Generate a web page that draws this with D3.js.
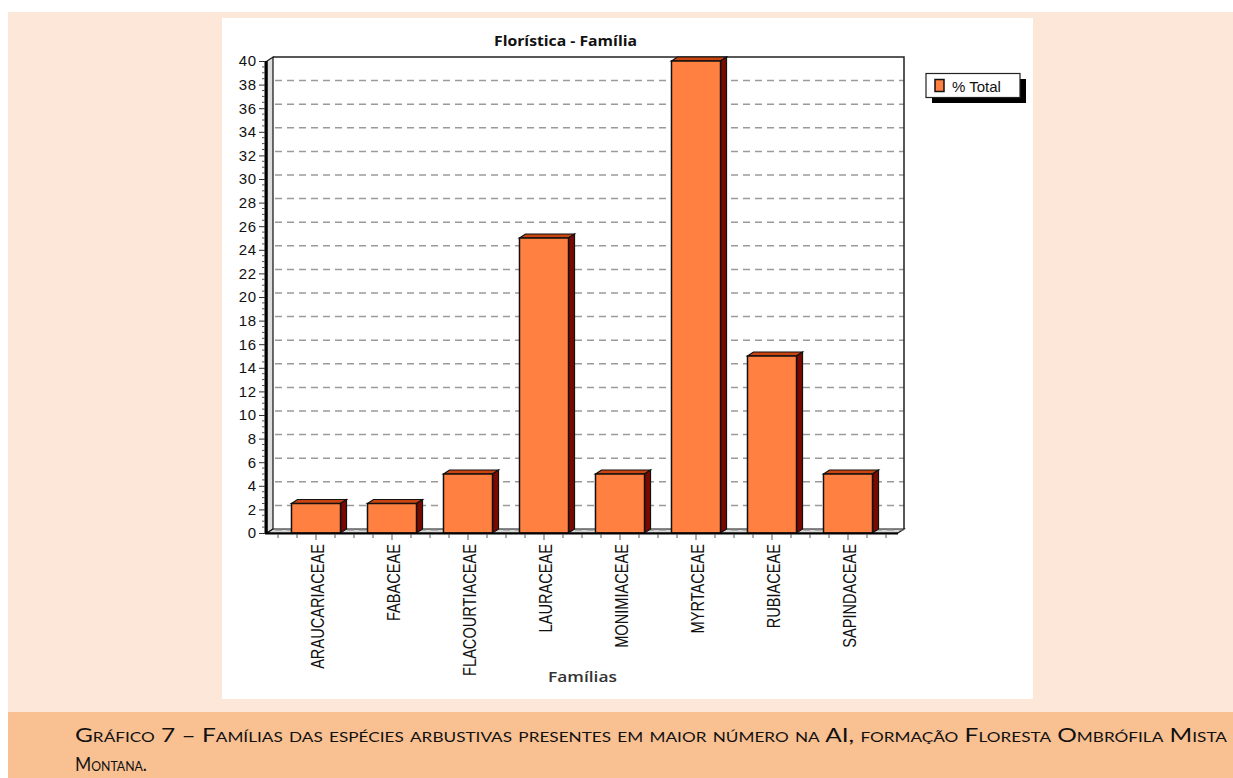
<!DOCTYPE html>
<html>
<head>
<meta charset="utf-8">
<script src="https://cdn.jsdelivr.net/npm/d3@7/dist/d3.min.js"></script>
<style>
  html, body { margin: 0; padding: 0; background: #ffffff; }
  svg { display: block; }
</style>
</head>
<body>
<svg id="chart" width="1233" height="778"></svg>
<script>
// Families and their share (% of species)
const families = ["ARAUCARIACEAE", "FABACEAE", "FLACOURTIACEAE", "LAURACEAE",
                  "MONIMIACEAE", "MYRTACEAE", "RUBIACEAE", "SAPINDACEAE"];
const pctTotal = [2.5, 2.5, 5, 25, 5, 40, 15, 5];
const yTicks = d3.range(0, 41, 2);
const seriesName = "% Total";
const chartTitle = "Florística - Família";
const xTitle = "Famílias";
const captionLine1 = "Gráfico 7 – Famílias das espécies arbustivas presentes em maior número na AI, formação Floresta Ombrófila Mista";
const captionLine2 = "Montana.";

const svg = d3.select("#chart");

// page panels
svg.append("rect").attr("x", 8).attr("y", 12).attr("width", 1225).attr("height", 700).attr("fill", "#fce7d8");
svg.append("rect").attr("x", 8).attr("y", 712).attr("width", 1225).attr("height", 66).attr("fill", "#f9c092");
svg.append("rect").attr("x", 222).attr("y", 18).attr("width", 811).attr("height", 681).attr("fill", "#ffffff");

// plot geometry
const left = 267, right = 898;
const dx = 6, dy = -4;            // 3D depth offset
const y = d3.scaleLinear().domain([0, 40]).range([533, 61]);
const x = d3.scaleBand().domain(families).range([278, 886]).paddingInner(0.355).paddingOuter(0.1775);

const g = svg.append("g");

// back wall
g.append("rect").attr("x", left + dx).attr("y", y(40) + dy).attr("width", right - left)
  .attr("height", y(0) - y(40)).attr("fill", "#ffffff");

// dashed gridlines on the back wall
g.selectAll("line.grid").data(yTicks.filter(v => v > 0 && v < 40)).join("line")
  .attr("class", "grid")
  .attr("x1", left + dx + 2).attr("x2", right + dx)
  .attr("y1", v => y(v) + dy).attr("y2", v => y(v) + dy)
  .attr("stroke", "#9a9a9a").attr("stroke-width", 1.5).attr("stroke-dasharray", "7,5");

// back wall frame (top and right)
g.append("path")
  .attr("d", `M${left + dx},${y(40) + dy}H${right + dx}V${y(0) + dy}`)
  .attr("fill", "none").attr("stroke", "#222").attr("stroke-width", 1.5);

// left side wall
g.append("path")
  .attr("d", `M${left},${y(0)}V${y(40)}L${left + dx},${y(40) + dy}V${y(0) + dy}Z`)
  .attr("fill", "#dcdcdc").attr("stroke", "#111").attr("stroke-width", 1.2);

// floor
g.append("path")
  .attr("d", `M${left},${y(0)}H${right}L${right + dx},${y(0) + dy}H${left + dx}Z`)
  .attr("fill", "#d8d8d8").attr("stroke", "#111").attr("stroke-width", 1.2);
g.append("line").attr("x1", left + dx + 2).attr("x2", right + dx)
  .attr("y1", y(0) + dy + 1).attr("y2", y(0) + dy + 1)
  .attr("stroke", "#888").attr("stroke-width", 1).attr("stroke-dasharray", "7,5");

// bars (front, top, side faces)
const data = families.map((f, i) => ({ f, v: pctTotal[i] }));
const bars = g.selectAll("g.bar").data(data).join("g").attr("class", "bar");
bars.append("path")   // top face
  .attr("d", d => {
    const x0 = x(d.f), x1 = x0 + x.bandwidth(), yt = y(d.v);
    return `M${x0},${yt}L${x0 + dx},${yt + dy}H${x1 + dx}L${x1},${yt}Z`;
  })
  .attr("fill", "#c94410").attr("stroke", "#111").attr("stroke-width", 1.2);
bars.append("path")   // side face
  .attr("d", d => {
    const x1 = x(d.f) + x.bandwidth(), yt = y(d.v), yb = y(0);
    return `M${x1},${yt}L${x1 + dx},${yt + dy}V${yb + dy}L${x1},${yb}Z`;
  })
  .attr("fill", "#7a0a00").attr("stroke", "#111").attr("stroke-width", 1.2);
bars.append("rect")   // front face
  .attr("x", d => x(d.f)).attr("y", d => y(d.v))
  .attr("width", x.bandwidth()).attr("height", d => y(0) - y(d.v))
  .attr("fill", "#ff8040").attr("stroke", "#111").attr("stroke-width", 1.5);

// front axes
g.append("line").attr("x1", left - 1).attr("x2", left - 1).attr("y1", y(40)).attr("y2", y(0) + 1)
  .attr("stroke", "#000").attr("stroke-width", 3);
g.append("line").attr("x1", left - 2).attr("x2", right).attr("y1", y(0) + 0.5).attr("y2", y(0) + 0.5)
  .attr("stroke", "#000").attr("stroke-width", 2);

// y axis with minor ticks
const yAxis = d3.axisLeft(y).tickValues(yTicks).tickSize(6).tickPadding(2).tickFormat(d3.format("d"));
const ya = g.append("g").attr("transform", `translate(${left - 2},0)`).call(yAxis);
ya.select(".domain").remove();
ya.selectAll("line").attr("stroke", "#333");
ya.selectAll("text").attr("font-family", "Liberation Sans, Arial, sans-serif")
  .attr("font-size", 15).attr("letter-spacing", "0.8px").attr("fill", "#111");
g.selectAll("line.minor").data(d3.range(0, 40.01, 0.5).filter(v => v % 2 !== 0)).join("line")
  .attr("class", "minor")
  .attr("x1", left - 5).attr("x2", left - 2)
  .attr("y1", v => y(v)).attr("y2", v => y(v)).attr("stroke", "#555").attr("stroke-width", 1);

// x ticks: quarter-band minors and a longer tick at each band centre
const step = x.step();
const xTickPos = d3.range(0, families.length * 4 + 1).map(k => x.range()[0] + k * step / 4);
g.selectAll("line.xt").data(xTickPos).join("line").attr("class", "xt")
  .attr("x1", p => p).attr("x2", p => p)
  .attr("y1", y(0) + 1).attr("y2", (p, i) => y(0) + (i % 4 === 2 ? 7 : 5))
  .attr("stroke", "#555").attr("stroke-width", 1);

// rotated category labels
g.selectAll("text.cat").data(families).join("text").attr("class", "cat")
  .attr("transform", f => `translate(${x(f) + x.bandwidth() / 2 + 1},544) rotate(-90) scale(1,1.3)`)
  .attr("text-anchor", "end").attr("dy", "0.36em")
  .attr("font-family", "Liberation Sans, Arial, sans-serif").attr("font-size", 14.6)
  .attr("fill", "#111").text(f => f);

// titles
svg.append("text").attr("x", 494).attr("y", 46)
  .attr("font-family", "Open Sans, sans-serif").attr("font-weight", 700).attr("font-size", 14)
  .attr("textLength", 143).attr("lengthAdjust", "spacingAndGlyphs")
  .attr("fill", "#111").text(chartTitle);
svg.append("text").attr("x", 548).attr("y", 682)
  .attr("font-family", "Open Sans, sans-serif").attr("font-weight", 600).attr("font-size", 14.5)
  .attr("textLength", 69).attr("lengthAdjust", "spacingAndGlyphs")
  .attr("fill", "#333").text(xTitle);

// legend
const lg = svg.append("g");
lg.append("rect").attr("x", 932).attr("y", 79).attr("width", 94).attr("height", 24).attr("fill", "#000");
lg.append("rect").attr("x", 926).attr("y", 73.5).attr("width", 94).attr("height", 24)
  .attr("fill", "#fff").attr("stroke", "#222").attr("stroke-width", 1.2);
lg.append("rect").attr("x", 935).attr("y", 79.5).attr("width", 9).attr("height", 12)
  .attr("fill", "#ff8040").attr("stroke", "#111").attr("stroke-width", 1.5);
lg.append("text").attr("x", 952).attr("y", 91.5)
  .attr("font-family", "Liberation Sans, Arial, sans-serif").attr("font-size", 15)
  .attr("fill", "#111").text(seriesName);

// caption in small caps
const capFont = "Lato, 'Open Sans', sans-serif";
svg.append("text").attr("x", 75).attr("y", 742)
  .attr("font-family", capFont).attr("font-size", 18.5).style("font-variant", "small-caps")
  .attr("textLength", 1152).attr("lengthAdjust", "spacingAndGlyphs")
  .attr("fill", "#111").text(captionLine1);
svg.append("text").attr("x", 75).attr("y", 771)
  .attr("font-family", capFont).attr("font-size", 18.5).style("font-variant", "small-caps")
  .attr("textLength", 72).attr("lengthAdjust", "spacingAndGlyphs")
  .attr("fill", "#111").text(captionLine2);
</script>
</body>
</html>
